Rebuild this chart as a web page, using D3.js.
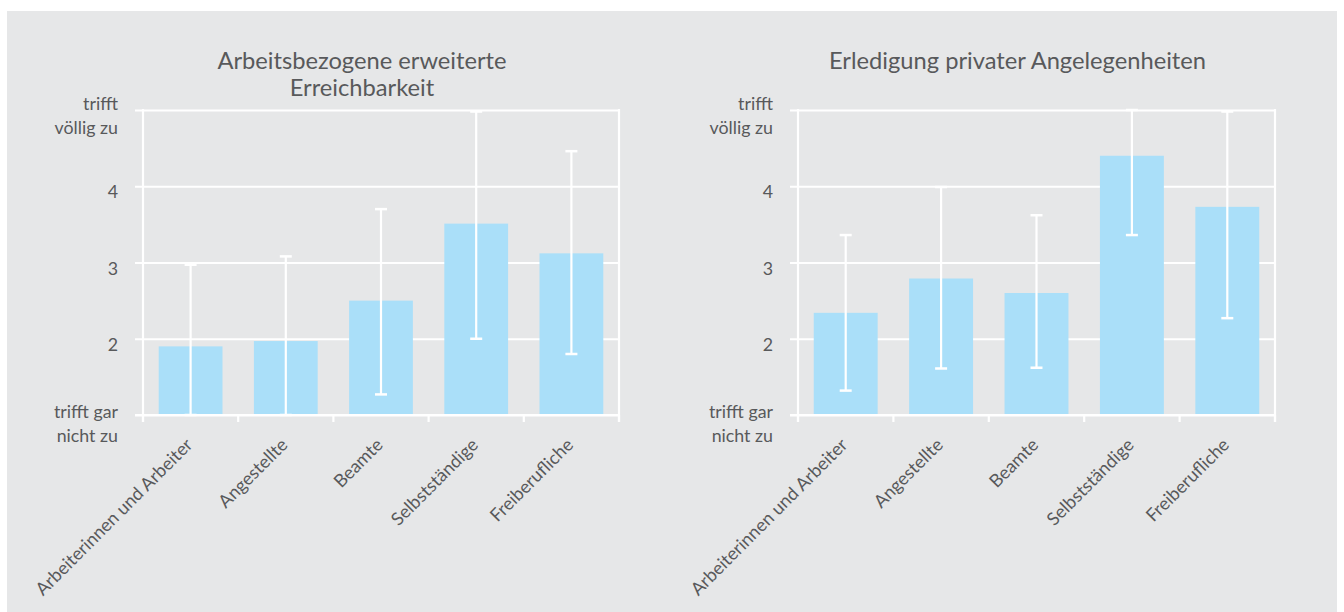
<!DOCTYPE html>
<html>
<head>
<meta charset="utf-8">
<script src="https://cdn.jsdelivr.net/npm/d3@7"></script>
<style>
  html, body { margin: 0; padding: 0; background: #ffffff; }
  svg { display: block; }
  text { font-family: Lato, "Open Sans", sans-serif; fill: #58595b; }
</style>
</head>
<body>
<svg id="chart" width="1344" height="612"></svg>
<script>
// ---- data ----
const categories = ["Arbeiterinnen und Arbeiter", "Angestellte", "Beamte", "Selbstständige", "Freiberufliche"];

const title1 = ["Arbeitsbezogene erweiterte", "Erreichbarkeit"];
const mean1 = [1.90, 1.97, 2.50, 3.51, 3.12];
const low1  = [1.00, 1.00, 1.27, 2.00, 1.80];
const high1 = [2.97, 3.08, 3.70, 4.98, 4.46];

const title2 = ["Erledigung privater Angelegenheiten"];
const mean2 = [2.34, 2.79, 2.60, 4.40, 3.73];
const low2  = [1.32, 1.61, 1.62, 3.36, 2.27];
const high2 = [3.36, 3.99, 3.62, 5.00, 4.98];

const yTickValues = [1, 2, 3, 4, 5];
const yTickLabels = [["trifft gar", "nicht zu"], ["2"], ["3"], ["4"], ["trifft", "völlig zu"]];

// ---- drawing ----
const svg = d3.select("#chart");
svg.append("rect").attr("x", 7).attr("y", 11).attr("width", 1330).attr("height", 601).attr("fill", "#e6e7e8");

function drawChart(left, right, titleLines, mean, low, high) {
  const top = 110, bottom = 415;
  const y = d3.scaleLinear().domain([1, 5]).range([bottom, top]);
  const x = d3.scaleBand().domain(categories).range([left, right]).paddingInner(0.33).paddingOuter(0.165);
  const step = x.step();
  const g = svg.append("g");

  // title
  const cx = (left + right) / 2 - 19;
  titleLines.forEach((t, i) => {
    g.append("text").attr("x", cx).attr("y", 69 + i * 27).attr("text-anchor", "middle")
      .style("font-size", "23.7px").text(t);
  });

  // gridlines + left ticks
  const yAxis = d3.axisLeft(y).tickValues(yTickValues).tickSize(-(right - left + 8)).tickFormat("");
  const ya = g.append("g").attr("transform", `translate(${left - 8},0)`).call(yAxis);
  ya.select(".domain").remove();
  ya.selectAll("line").attr("stroke", "#ffffff").attr("stroke-width", 2.2)
    .attr("x1", 0).attr("x2", right - left + 8);

  // bars over gridlines
  g.selectAll("rect.bar").data(categories).enter().append("rect")
    .attr("class", "bar")
    .attr("x", d => x(d)).attr("width", x.bandwidth())
    .attr("y", (d, i) => y(mean[i])).attr("height", (d, i) => y(1) - y(mean[i]))
    .attr("fill", "#aadff9");

  // vertical axis lines
  g.append("line").attr("x1", left).attr("x2", left).attr("y1", top - 1).attr("y2", bottom + 7)
    .attr("stroke", "#ffffff").attr("stroke-width", 2.2);
  g.append("line").attr("x1", right).attr("x2", right).attr("y1", top - 1).attr("y2", bottom + 7)
    .attr("stroke", "#ffffff").attr("stroke-width", 2.2);
  // bottom baseline over bars
  g.append("line").attr("x1", left - 8).attr("x2", right + 1).attr("y1", bottom).attr("y2", bottom)
    .attr("stroke", "#ffffff").attr("stroke-width", 2.2);

  // x ticks at band boundaries
  const bounds = d3.range(categories.length + 1).map(i => left + i * step);
  g.selectAll("line.xt").data(bounds).enter().append("line").attr("class", "xt")
    .attr("x1", d => d).attr("x2", d => d).attr("y1", bottom).attr("y2", bottom + 7)
    .attr("stroke", "#ffffff").attr("stroke-width", 2.2);

  // y tick labels
  yTickValues.forEach((v, i) => {
    const lines = yTickLabels[i];
    const lh = 24;
    const c = y(v) + 6 - (lines.length - 1) * lh / 2 + (v === 1 ? 3 : 0);
    const t = g.append("text").attr("text-anchor", "end").style("font-size", "17.8px");
    lines.forEach((s, j) => {
      t.append("tspan").attr("x", left - 25).attr("y", c + j * lh).attr("dy", "0.35em").text(s);
    });
  });

  // error bars
  const cap = 6;
  const eb = g.selectAll("g.err").data(categories).enter().append("g").attr("class", "err");
  eb.append("line")
    .attr("x1", d => x(d) + x.bandwidth() / 2).attr("x2", d => x(d) + x.bandwidth() / 2)
    .attr("y1", (d, i) => y(low[i])).attr("y2", (d, i) => y(high[i]))
    .attr("stroke", "#ffffff").attr("stroke-width", 2.2);
  eb.append("line")
    .attr("x1", d => x(d) + x.bandwidth() / 2 - cap).attr("x2", d => x(d) + x.bandwidth() / 2 + cap)
    .attr("y1", (d, i) => y(high[i])).attr("y2", (d, i) => y(high[i]))
    .attr("stroke", "#ffffff").attr("stroke-width", 2.5);
  eb.append("line")
    .attr("x1", d => x(d) + x.bandwidth() / 2 - cap).attr("x2", d => x(d) + x.bandwidth() / 2 + cap)
    .attr("y1", (d, i) => y(low[i])).attr("y2", (d, i) => y(low[i]))
    .attr("stroke", "#ffffff").attr("stroke-width", 2.5);

  // x labels, rotated
  g.selectAll("text.xl").data(categories).enter().append("text").attr("class", "xl")
    .attr("text-anchor", "end").style("font-size", "18px")
    .attr("transform", d => `translate(${x(d) + x.bandwidth() / 2 + 3},${bottom + 31}) rotate(-45)`)
    .text(d => d);
}

drawChart(143, 619, title1, mean1, low1, high1);
drawChart(798, 1275, title2, mean2, low2, high2);
</script>
</body>
</html>
